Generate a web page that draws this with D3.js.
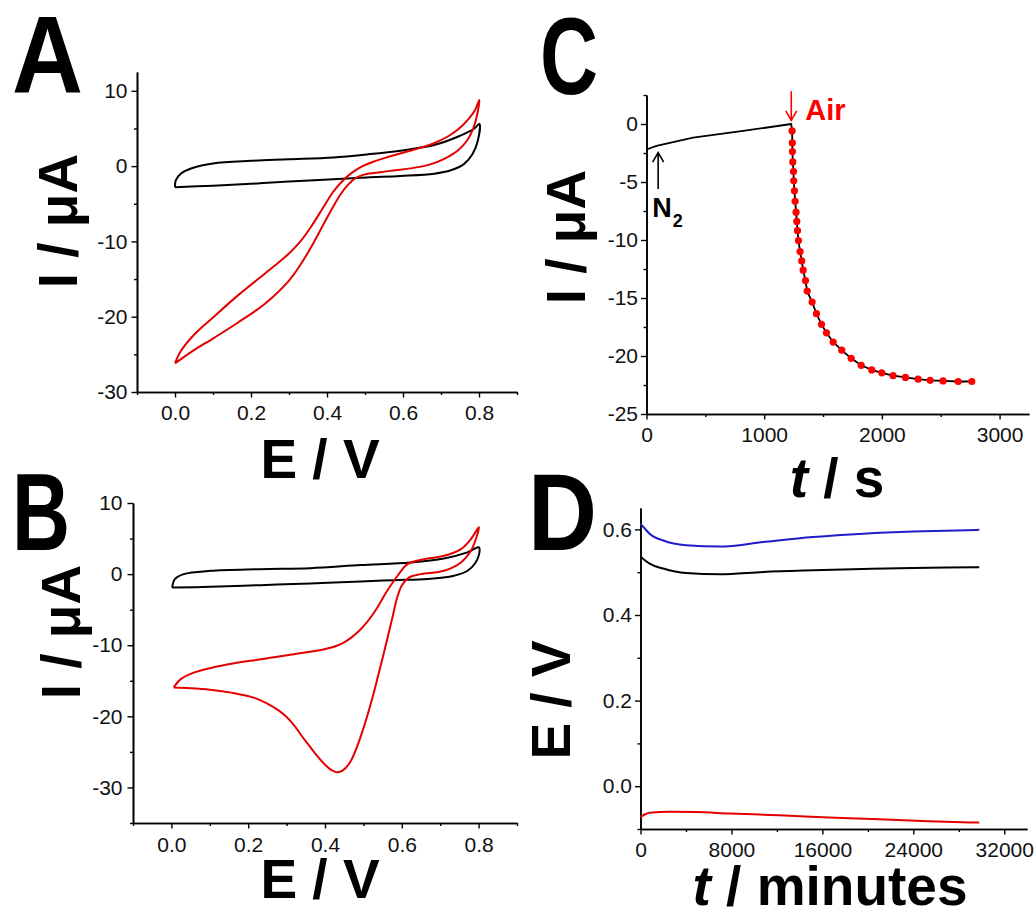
<!DOCTYPE html>
<html>
<head>
<meta charset="utf-8">
<script src="https://cdn.jsdelivr.net/npm/d3@7"></script>
<style>
  body { margin: 0; background: #fff; }
  svg text { font-family: "Liberation Sans", Arial, sans-serif; }
</style>
</head>
<body>
<div id="chart"></div>
<script>
/* CONSTANTS */
const width = 1035, height = 918;
const red = "#e50000", blue = "#1c1ccc";

/* DATA */
// panel A : CV, blank (black) and air (red) - E in V, I in uA
const aBlankE = [0, 0.1, 0.2, 0.3, 0.417, 0.505, 0.593, 0.682, 0.726, 0.761, 0.783, 0.797, 0.801,
  0.788, 0.744, 0.682, 0.593, 0.505, 0.417, 0.3, 0.2, 0.1, 0.046, 0.015, 0.002, 0];
const aBlankI = [-2.8, -2.6, -2.35, -2.05, -1.75, -1.5, -1.3, -1.0, -0.55, 0.3, 1.6, 3.4, 5.6,
  5.0, 3.9, 2.8, 2.05, 1.55, 1.15, 0.9, 0.7, 0.35, -0.25, -1.0, -1.9, -2.8];
const aAirE = [0, 0.015, 0.05, 0.10, 0.165, 0.236, 0.27, 0.30, 0.33, 0.36, 0.39, 0.415, 0.44,
  0.465, 0.49, 0.52, 0.56, 0.63, 0.68, 0.72, 0.75, 0.775, 0.79, 0.801,
  0.795, 0.785, 0.77, 0.745, 0.71, 0.67, 0.62, 0.58, 0.54, 0.50, 0.475, 0.455, 0.435, 0.415,
  0.39, 0.36, 0.33, 0.30, 0.236, 0.165, 0.103, 0.045, 0];
const aAirI = [-26.2, -24.6, -22.4, -20.1, -17.2, -14.3, -12.9, -11.6, -10.0, -7.9, -5.5, -3.5, -2.0,
  -0.9, -0.1, 0.55, 1.2, 2.2, 3.0, 4.0, 5.1, 6.4, 7.5, 8.8,
  6.8, 5.0, 3.5, 2.1, 1.0, 0.2, -0.3, -0.55, -0.8, -1.1, -1.6, -2.5, -3.8, -5.5,
  -7.8, -10.6, -13.1, -15.2, -18.3, -20.8, -22.8, -24.6, -26.2];

// panel B : CV, blank (black) and air (red)
const bBlankE = [0.002, 0.102, 0.232, 0.362, 0.493, 0.580, 0.667, 0.736, 0.771, 0.797, 0.801,
  0.771, 0.710, 0.623, 0.493, 0.362, 0.232, 0.102, 0.032, 0.009, 0.002];
const bBlankI = [-1.9, -1.78, -1.55, -1.31, -1.03, -0.85, -0.70, -0.23, 0.47, 2.11, 3.76,
  3.05, 2.2, 1.64, 1.27, 0.84, 0.70, 0.47, 0.0, -0.70, -1.9];
const bAirE = [0.006, 0.0235, 0.058, 0.145, 0.232, 0.319, 0.406, 0.449, 0.493, 0.528, 0.562, 0.589,
  0.615, 0.658, 0.710, 0.754, 0.780, 0.797, 0.801,
  0.793, 0.780, 0.754, 0.710, 0.649, 0.619, 0.60, 0.588, 0.576, 0.562, 0.549, 0.536, 0.523,
  0.510, 0.497, 0.484, 0.468, 0.455, 0.443, 0.43, 0.415, 0.40, 0.38, 0.36, 0.34, 0.32, 0.30,
  0.28, 0.25, 0.21, 0.16, 0.10, 0.05, 0.006];
const bAirI = [-15.96, -14.8, -13.85, -12.7, -11.97, -11.27, -10.47, -9.62, -7.75, -5.4, -2.35, -0.23,
  1.41, 2.11, 2.58, 3.52, 4.93, 6.34, 6.6,
  4.93, 3.28, 1.64, 0.47, 0.0, -0.47, -1.6, -3.3, -6.0, -9.15, -12.0, -14.8, -17.5,
  -19.96, -22.2, -24.2, -26.2, -27.2, -27.7, -27.85, -27.5, -26.8, -25.6, -24.2, -22.8, -21.3, -20.1,
  -19.2, -18.2, -17.3, -16.7, -16.25, -16.05, -15.96];

// panel C : chronoamperometry, t in s, I in uA
const cBaseT = [0, 85, 396, 821, 1230];
const cBaseI = [-2.2, -1.89, -1.18, -0.6, 0];
const cFitT = [1237, 1239, 1240, 1243, 1249, 1251, 1257, 1263, 1271, 1277, 1283, 1291, 1305, 1319,
  1331, 1351, 1365, 1407, 1444, 1487, 1529, 1586, 1659, 1739, 1824, 1914, 1999, 2095, 2200,
  2308, 2410, 2520, 2648, 2764];
const cFitI = [-0.6, -1.63, -2.38, -3.27, -4.1, -4.9, -5.76, -6.67, -7.6, -8.4, -9.2, -10.05, -11.0,
  -11.8, -12.6, -13.5, -14.4, -15.35, -16.35, -17.27, -18.0, -18.8, -19.5, -20.2, -20.8,
  -21.2, -21.45, -21.7, -21.85, -22.0, -22.1, -22.15, -22.2, -22.2];

// panel D : open circuit potentials, t in minutes, E in V
const dT = [0, 380, 800, 2000, 4000, 7000, 10800, 15200, 19600, 24000, 26900, 29800];
const dBlue = [0.613, 0.602, 0.590, 0.574, 0.563, 0.560, 0.5705, 0.582, 0.590, 0.595, 0.597, 0.599];
const dBlack = [0.537, 0.528, 0.520, 0.5085, 0.498, 0.495, 0.5006, 0.5045, 0.5076, 0.510, 0.511, 0.5115];
const dRedT = [0, 800, 2600, 4900, 7800, 12200, 16600, 21000, 25400, 29800];
const dRed = [-0.072, -0.062, -0.0596, -0.0604, -0.0636, -0.068, -0.073, -0.0775, -0.082, -0.085];

// ticks
const cvMajorE = [0, 0.2, 0.4, 0.6, 0.8];
const cvMinorE = [-0.1, 0.1, 0.3, 0.5, 0.7, 0.9];
const aMajorI = [-30, -20, -10, 0, 10];
const aMinorI = [-25, -15, -5, 5];
const bMajorI = [-30, -20, -10, 0, 10];
const bMinorI = [-35, -25, -15, -5, 5];
const cMajorT = [0, 1000, 2000, 3000];
const cMinorT = [500, 1500, 2500];
const cMajorI = [-25, -20, -15, -10, -5, 0];
const cMinorI = [-22.5, -17.5, -12.5, -7.5, -2.5, 2.5];
const dMajorT = [0, 8000, 16000, 24000, 32000];
const dMinorT = [4000, 12000, 20000, 28000];
const dMajorE = [0, 0.2, 0.4, 0.6];
const dMinorE = [-0.1, 0.1, 0.3, 0.5];

const zip = (a, b) => a.map((v, i) => [v, b[i]]);

const svg = d3.select("#chart").append("svg")
  .attr("width", width).attr("height", height)
  .style("background", "#fff");

// one panel: scales + L shaped axes with major and minor ticks
function panel(p) {
  const x = d3.scaleLinear().domain(p.xDomain).range([p.left, p.right]);
  const y = d3.scaleLinear().domain(p.yDomain).range([p.bottom, p.top]);
  const g = svg.append("g");

  g.append("g").attr("transform", `translate(0,${p.bottom})`)
    .call(d3.axisBottom(x).tickValues(p.xMinor).tickSize(3).tickFormat("").tickSizeOuter(0));
  g.append("g").attr("transform", `translate(0,${p.bottom})`)
    .call(d3.axisBottom(x).tickValues(p.xMajor).tickSize(5.5).tickPadding(p.xPad)
      .tickFormat(p.xFmt).tickSizeOuter(0));
  g.append("g").attr("transform", `translate(${p.left},0)`)
    .call(d3.axisLeft(y).tickValues(p.yMinor).tickSize(3).tickFormat("").tickSizeOuter(0));
  g.append("g").attr("transform", `translate(${p.left},0)`)
    .call(d3.axisLeft(y).tickValues(p.yMajor).tickSize(5.5).tickPadding(p.yPad)
      .tickFormat(p.yFmt).tickSizeOuter(0));

  g.selectAll(".domain").attr("stroke", "#000").attr("stroke-width", 1.6);
  g.selectAll(".tick line").attr("stroke", "#000").attr("stroke-width", 1.4);
  g.selectAll(".tick text").attr("font-size", 21).attr("fill", "#111")
    .attr("font-family", "'Liberation Sans', Arial, sans-serif");
  return { g, x, y };
}

const num = d => String(d);
const fix1 = d => d.toFixed(1);

function drawLine(pn, pts, color, curve, w) {
  const line = d3.line().x(d => pn.x(d[0])).y(d => pn.y(d[1])).curve(curve);
  pn.g.append("path").datum(pts)
    .attr("d", line).attr("fill", "none")
    .attr("stroke", color).attr("stroke-width", w || 2)
    .attr("stroke-linejoin", "round");
}

/* PANEL A */
const pA = panel({ left: 137, right: 517, top: 72, bottom: 392,
  xDomain: [-0.1, 0.9], yDomain: [-30, 12.5],
  xMajor: cvMajorE, xMinor: cvMinorE, yMajor: aMajorI, yMinor: aMinorI,
  xFmt: fix1, yFmt: num, xPad: 8, yPad: 4 });
drawLine(pA, zip(aBlankE, aBlankI), "#000", d3.curveCatmullRom.alpha(0.5));
drawLine(pA, zip(aAirE, aAirI), red, d3.curveCatmullRom.alpha(0.5));

/* PANEL B */
const pB = panel({ left: 133, right: 517, top: 503, bottom: 823,
  xDomain: [-0.1, 0.9], yDomain: [-35, 10],
  xMajor: cvMajorE, xMinor: cvMinorE, yMajor: bMajorI, yMinor: bMinorI,
  xFmt: fix1, yFmt: num, xPad: 9, yPad: 5 });
drawLine(pB, zip(bBlankE, bBlankI), "#000", d3.curveCatmullRom.alpha(0.5));
drawLine(pB, zip(bAirE, bAirI), red, d3.curveCatmullRom.alpha(0.5));

/* PANEL C */
const pC = panel({ left: 646.5, right: 1029, top: 95, bottom: 414,
  xDomain: [0, 3250], yDomain: [-25, 2.5],
  xMajor: cMajorT, xMinor: cMinorT, yMajor: cMajorI, yMinor: cMinorI,
  xFmt: num, yFmt: num, xPad: 8, yPad: 3 });
drawLine(pC, zip(cBaseT, cBaseI).concat(zip(cFitT, cFitI)), "#000", d3.curveLinear, 1.8);
pC.g.selectAll("circle.fit").data(zip(cFitT, cFitI)).join("circle")
  .attr("class", "fit")
  .attr("cx", d => pC.x(d[0])).attr("cy", d => pC.y(d[1]))
  .attr("r", 3.6).attr("fill", "#f00");

// arrows + labels
function arrow(g, x, y1, y2, color) {
  // line from y1 (tail) to y2 (head)
  const dir = y2 > y1 ? -1 : 1;
  g.append("path")
    .attr("d", `M${x},${y1}V${y2}M${x - 5.5},${y2 + dir * 9.5}L${x},${y2}L${x + 5.5},${y2 + dir * 9.5}`)
    .attr("fill", "none").attr("stroke", color).attr("stroke-width", 1.6);
}
arrow(pC.g, pC.x(1230), pC.y(2.83), pC.y(0.32), "#f00");
pC.g.append("text").attr("x", pC.x(1230) + 14).attr("y", pC.y(0.32))
  .attr("font-size", 29).attr("font-weight", "bold").attr("fill", "#f00").text("Air");
arrow(pC.g, pC.x(99), pC.y(-5.6), pC.y(-2.47), "#000");
const n2 = pC.g.append("text").attr("x", pC.x(99) - 6).attr("y", 217)
  .attr("font-size", 27).attr("font-weight", "bold").attr("fill", "#000");
n2.append("tspan").text("N");
n2.append("tspan").attr("font-size", 18).attr("dy", 10).attr("dx", 1).text("2");

/* PANEL D */
const pD = panel({ left: 640.5, right: 1027, top: 508, bottom: 829,
  xDomain: [0, 34000], yDomain: [-0.1, 0.65],
  xMajor: dMajorT, xMinor: dMinorT, yMajor: dMajorE, yMinor: dMinorE,
  xFmt: num, yFmt: fix1, xPad: 8, yPad: 3 });
drawLine(pD, zip(dT, dBlue), blue, d3.curveMonotoneX);
drawLine(pD, zip(dT, dBlack), "#000", d3.curveMonotoneX);
drawLine(pD, zip(dRedT, dRed), red, d3.curveMonotoneX);

/* AXIS TITLES */
function title(x, y, rot, parts) {
  const t = svg.append("text")
    .attr("transform", `translate(${x},${y}) rotate(${rot})`)
    .attr("text-anchor", "middle")
    .attr("font-size", 55).attr("font-weight", "bold").attr("fill", "#000");
  parts.forEach(p => t.append("tspan").attr("font-style", p[1] ? "italic" : "normal").text(p[0]));
}
title(77, 221, -90, [["I / μA"]]);
title(320, 478, 0, [["E / V"]]);
title(80, 632, -90, [["I / μA"]]);
title(320, 898, 0, [["E / V"]]);
title(585, 237, -90, [["I / μA"]]);
title(837, 497, 0, [["t", true], [" / s"]]);
title(570, 700, -90, [["E / V"]]);
title(830, 905, 0, [["t", true], [" / minutes"]]);

/* PANEL LETTERS */
const letters = [["A", 12, 92, 71], ["B", 12, 550, 58], ["C", 540, 94, 58], ["D", 528, 550, 69]];
svg.selectAll("text.letter").data(letters).join("text")
  .attr("class", "letter")
  .attr("x", d => d[1]).attr("y", d => d[2])
  .attr("font-size", 110).attr("font-weight", "bold").attr("fill", "#000")
  .attr("textLength", d => d[3]).attr("lengthAdjust", "spacingAndGlyphs")
  .text(d => d[0]);
</script>
</body>
</html>
